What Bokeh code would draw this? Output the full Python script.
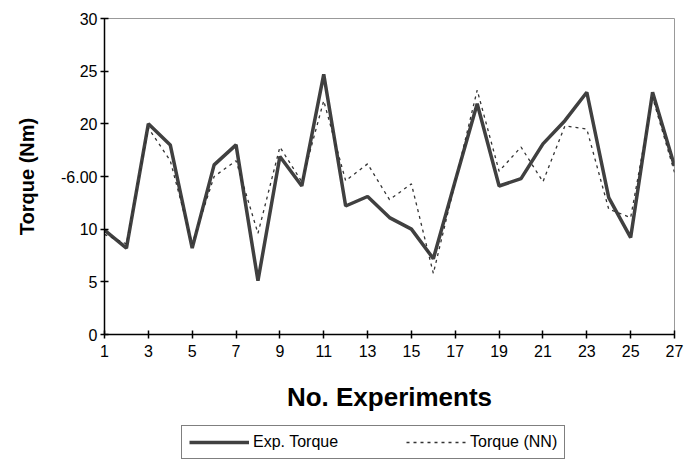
from bokeh.plotting import figure
from bokeh.models import Legend, LegendItem, FixedTicker, Range1d
from bokeh.layouts import column
from bokeh.embed import file_html
from bokeh.resources import INLINE

experiments = list(range(1, 28))
exp_torque = [9.9, 8.2, 20.0, 18.0, 8.2, 16.1, 18.0, 5.1, 16.9, 14.1, 24.7, 12.2, 13.1,
              11.1, 10.0, 7.2, 14.6, 21.9, 14.1, 14.8, 18.1, 20.3, 23.0, 13.0, 9.2, 23.0, 16.0]
nn_torque = [9.5, 8.6, 19.6, 16.5, 8.6, 15.0, 16.5, 9.6, 17.8, 14.5, 22.2, 14.6, 16.2,
             12.8, 14.3, 5.8, 14.5, 23.2, 15.5, 17.8, 14.5, 19.8, 19.5, 11.9, 11.1, 22.5, 15.4]
x_ticks = list(range(1, 28, 2))
y_ticks = [0, 5, 10, 15, 20, 25, 30]
y_tick_labels = {0: "0", 5: "5", 10: "10", 15: "-6.00", 20: "20", 25: "25", 30: "30"}
series_names = ["Exp. Torque", "Torque (NN)"]

font = "Liberation Sans"
exp_style = dict(line_color="#404040", line_width=3.5)
nn_style = dict(line_color="#333333", line_width=1.3, line_dash="3 4")

p = figure(width=687, height=422, output_backend="svg", toolbar_location=None,
           x_range=Range1d(1, 27), y_range=Range1d(0, 30),
           min_border_left=104, min_border_right=13, min_border_top=18, min_border_bottom=88)
p.background_fill_color = "white"
p.border_fill_color = "white"
p.outline_line_color = "#999999"
p.outline_line_width = 1
p.grid.visible = False

p.line(experiments, exp_torque, **exp_style)
p.line(experiments, nn_torque, **nn_style)

p.xaxis.ticker = FixedTicker(ticks=x_ticks)
p.yaxis.ticker = FixedTicker(ticks=y_ticks)
p.yaxis.major_label_overrides = y_tick_labels
for ax in (p.xaxis, p.yaxis):
    ax.axis_line_color = "black"
    ax.axis_line_width = 1.5
    ax.major_tick_line_color = "black"
    ax.major_tick_line_width = 1.5
    ax.major_tick_in = 4
    ax.major_tick_out = 4
    ax.minor_tick_line_color = None
    ax.major_label_text_font = font
    ax.major_label_text_font_size = "16px"
    ax.major_label_text_color = "black"
    ax.axis_label_text_font = font
    ax.axis_label_text_font_style = "bold"
    ax.axis_label_text_color = "black"

p.xaxis.axis_label = "No. Experiments"
p.xaxis.axis_label_text_font_size = "26px"
p.xaxis.major_label_standoff = 6
p.xaxis.axis_label_standoff = 22
p.yaxis.axis_label = "Torque (Nm)"
p.yaxis.axis_label_text_font_size = "20px"
p.yaxis.major_label_standoff = 3
p.yaxis.axis_label_standoff = 20

# legend strip below the chart (same series, drawn outside its visible range)
lg = figure(width=687, height=38, output_backend="svg", toolbar_location=None,
            x_range=Range1d(100, 101), y_range=Range1d(100, 101),
            x_axis_type=None, y_axis_type=None,
            min_border_left=0, min_border_right=0, min_border_top=0, min_border_bottom=0)
lg.outline_line_color = None
lg.grid.visible = False
lg.background_fill_color = "white"
lg.border_fill_color = "white"
g1 = lg.line(experiments, exp_torque, **exp_style)
g2 = lg.line(experiments, nn_torque, **nn_style)

legend = Legend(items=[LegendItem(label=series_names[0], renderers=[g1]),
                       LegendItem(label=series_names[1], renderers=[g2])],
                location=(77, 1), orientation="horizontal")
legend.border_line_color = "black"
legend.border_line_width = 1.5
legend.background_fill_color = "white"
legend.label_text_font = font
legend.label_text_font_size = "16px"
legend.label_text_color = "black"
legend.label_height = 16
legend.glyph_width = 60
legend.glyph_height = 16
legend.label_standoff = 4
legend.spacing = 68
legend.padding = 7
legend.margin = 0
lg.add_layout(legend, "center")

open("out.html", "w").write(file_html(column(p, lg, spacing=0), INLINE))
